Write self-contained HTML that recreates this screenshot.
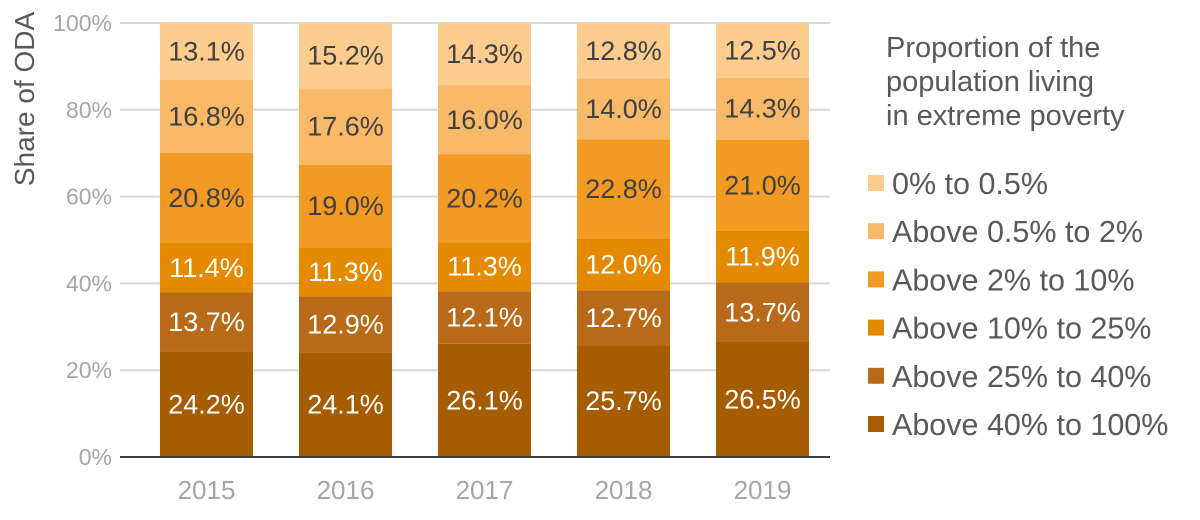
<!DOCTYPE html>
<html><head><meta charset="utf-8"><style>
body{margin:0;background:#fff;}
svg{display:block;font-family:"Liberation Sans",Arial,sans-serif;}
</style></head><body>
<svg id="chart" width="1200" height="520">
<text x="34" y="99" transform="rotate(-90 34 99)" text-anchor="middle" font-size="28" fill="#595959">Share of ODA</text>
<g>
<text x="886" y="57" font-size="29" fill="#595959">Proportion of the</text>
<text x="886" y="91" font-size="29" fill="#595959">population living</text>
<text x="886" y="125" font-size="29" fill="#595959">in extreme poverty</text>
</g>
</svg>
<script>
const years=["2015","2016","2017","2018","2019"];
const seriesNames=["Above 40% to 100%","Above 25% to 40%","Above 10% to 25%","Above 2% to 10%","Above 0.5% to 2%","0% to 0.5%"];
const s40to100=[24.2,24.1,26.1,25.7,26.5];
const s25to40=[13.7,12.9,12.1,12.7,13.7];
const s10to25=[11.4,11.3,11.3,12.0,11.9];
const s2to10=[20.8,19.0,20.2,22.8,21.0];
const s05to2=[16.8,17.6,16.0,14.0,14.3];
const s0to05=[13.1,15.2,14.3,12.8,12.5];
const yTicks=[0,20,40,60,80,100];
const series=[s40to100,s25to40,s10to25,s2to10,s05to2,s0to05];
const colors=["#A65C00","#B86A18","#E48A00","#F29A24","#F8B968","#FCCD8F"];
const textCol=["#fff","#fff","#fff","#404040","#404040","#404040"];
const NS="http://www.w3.org/2000/svg";
const svg=document.getElementById("chart");
const x0=120,x1=830,yB=457,yT=23;
const bx0=137,bx1=832;
const y=v=>yB-(yB-yT)*v/100;
const step=(bx1-bx0)/years.length;
const cx=i=>bx0+step*(i+0.5);
const bw=93;
function mk(tag,attrs){const e=document.createElementNS(NS,tag);for(const k in attrs)e.setAttribute(k,attrs[k]);svg.appendChild(e);return e;}
yTicks.forEach(t=>{
  if(t>0){const l=mk("line",{x1:x0,x2:x1,y1:y(t),y2:y(t),stroke:"#D9D9D9","stroke-width":2});
  
  }
  const tx=mk("text",{x:112,y:y(t)+8,"text-anchor":"end","font-size":23,fill:"#A6A6A6"});
  tx.textContent=t+"%";
  
  
});
years.forEach((yr,i)=>{
  let acc=0;
  series.forEach((s,k)=>{
    const v=s[i];
    const top=k===series.length-1?100:acc+v;
    const r=mk("rect",{x:cx(i)-bw/2,y:y(top),width:bw,height:y(acc)-y(top),fill:colors[k]});
    
    
    const lbl=mk("text",{x:cx(i),y:(y(acc)+y(acc+v))/2+9,"text-anchor":"middle","font-size":27,fill:textCol[k]});
    lbl.textContent=v.toFixed(1)+"%";
    
    
    acc+=v;
  });
  const t=mk("text",{x:cx(i),y:499,"text-anchor":"middle","font-size":26,fill:"#A6A6A6"});
  t.textContent=yr;
  
  
});
const ax=mk("line",{x1:x0,x2:x1,y1:yB,y2:yB,stroke:"#404040","stroke-width":2});


const legOrder=[5,4,3,2,1,0];
legOrder.forEach((k,j)=>{
  const cy=183+j*48.2;
  const r=mk("rect",{x:868,y:cy-8,width:16,height:16,fill:colors[k]});
  
  
  const t=mk("text",{x:892,y:cy+11,"font-size":30.5,fill:"#595959"});
  t.textContent=seriesNames[k];
  
  
});
</script>
</body></html>
